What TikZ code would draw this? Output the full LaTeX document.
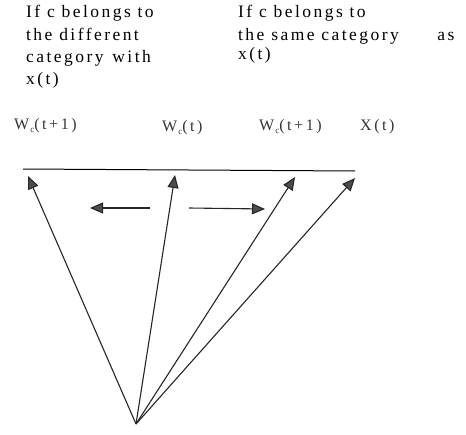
\documentclass[tikz,border=0pt]{standalone}
\usepackage{fontspec}
\newfontfamily\reffont{Liberation Serif}[LetterSpace=14]
\newfontfamily\lblfont{Liberation Serif}[LetterSpace=16]
\usetikzlibrary{arrows.meta}
\begin{document}
\begin{tikzpicture}[x=1pt,y=-1pt,
  txt/.style={anchor=base west,inner sep=0pt,font=\reffont\fontsize{17.5}{17.5}\selectfont},
  lbl/.style={anchor=base west,inner sep=0pt,text=black!80,font=\lblfont\fontsize{16}{16}\selectfont},
  vec/.style={line width=1.1pt,draw=black!85,-{Triangle[length=13pt,width=11pt,fill=black!70]}}]
\useasboundingbox (0,0) rectangle (466,434);
% top texts
\node[txt] (l1) at (26,17) {If c belongs to};
\node[txt] (l2) at (26,40) {the different};
\node[txt] (l3) at (26,62) {category\hspace{0.5em}with};
\node[txt] (l4) at (26,84) {x(t)};
\node[txt] (r1) at (238,17) {If c belongs to};
\node[txt] (r2) at (238,40) {the same category\hspace{2.2em}as};
\node[txt] (r3) at (238,59) {x(t)};
% labels
\node[lbl] (w1) at (14,129) {W\kern1pt\raisebox{-3pt}{\fontsize{9}{9}\selectfont c}(t+1)};
\node[lbl] (w2) at (162,131) {W\kern1pt\raisebox{-3pt}{\fontsize{9}{9}\selectfont c}(t)};
\node[lbl] (w3) at (259,130) {W\kern1pt\raisebox{-3pt}{\fontsize{9}{9}\selectfont c}(t+1)};
\node[lbl] (xt) at (360,130) {X(t)};
% line
\coordinate (La) at (23,169);
\coordinate (Lb) at (355,171);
\draw[line width=1pt] (La) -- (Lb);
% vectors
\coordinate (O) at (136,424);
\coordinate (T1) at (28,176);
\coordinate (T2) at (175,175);
\coordinate (T3) at (295,177);
\coordinate (T4) at (355,178);
\draw[vec] (O) -- (T1);
\draw[vec] (O) -- (T2);
\draw[vec] (O) -- (T3);
\draw[vec] (O) -- (T4);
% shift arrows
\coordinate (A1) at (150,208);
\coordinate (A2) at (90,208);
\coordinate (B1) at (189,208);
\coordinate (B2) at (265,209);
\draw[vec] (A1) -- (A2);
\draw[vec] (B1) -- (B2);
\end{tikzpicture}
\end{document}
